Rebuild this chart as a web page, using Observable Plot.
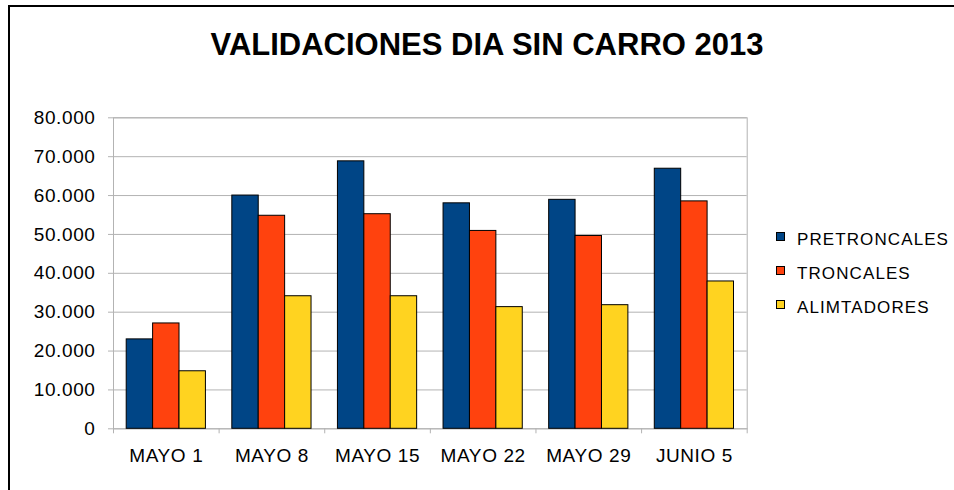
<!DOCTYPE html>
<html>
<head>
<meta charset="utf-8">
<script src="https://cdn.jsdelivr.net/npm/d3@7"></script>
<script src="https://cdn.jsdelivr.net/npm/@observablehq/plot@0.6"></script>
<style>
  html, body { margin: 0; padding: 0; background: #fff; }
  #wrap { position: relative; width: 954px; height: 490px; overflow: hidden; background: #fff; font-family: "Liberation Sans", Arial, sans-serif; }
  #border { position: absolute; left: 8px; top: 5px; width: 1200px; height: 800px; border-top: 2px solid #000; border-left: 2px solid #000; }
  #title { position: absolute; left: 0; top: 28.8px; width: 974px; text-align: center; font-size: 31px; font-weight: bold; line-height: 1; color: #000; white-space: nowrap; }
  #chart { position: absolute; left: 0; top: 90px; }
  #legend { position: absolute; left: 0; top: 0; }
  .sw { position: absolute; width: 7px; height: 7px; border: 1px solid #000; }
  .lt { position: absolute; font-size: 17px; letter-spacing: 1.1px; line-height: 1; color: #000; white-space: nowrap; }
</style>
</head>
<body>
<div id="wrap">
  <div id="border"></div>
  <div id="title">VALIDACIONES DIA SIN CARRO 2013</div>
  <div id="chart"></div>
  <div id="legend"></div>
</div>
<script>
const categories = ["MAYO 1", "MAYO 8", "MAYO 15", "MAYO 22", "MAYO 29", "JUNIO 5"];
const pretroncales = [23000, 60000, 68800, 58000, 58900, 66900];
const troncales = [27100, 54800, 55200, 50900, 49600, 58500];
const alimtadores = [14800, 34100, 34100, 31300, 31800, 37900];
const seriesNames = ["PRETRONCALES", "TRONCALES", "ALIMTADORES"];
const seriesColors = ["#004586", "#ff420e", "#ffd320"];
const yTicks = [0, 10000, 20000, 30000, 40000, 50000, 60000, 70000, 80000];

const seriesValues = [pretroncales, troncales, alimtadores];
const rows = categories.flatMap((cat, i) =>
  seriesValues.map((vals, j) => ({ i, j, cat, series: seriesNames[j], value: vals[i] }))
);

const locale = d3.formatLocale({ decimal: ",", thousands: ".", grouping: [3], currency: ["", ""] });
const fmt = locale.format(",");

const grid = "#b3b3b3";
const groupPad = 0.125;   // fraction of each category band left empty on each side
const barW = 0.25;        // fraction of a category band per bar

const plot = Plot.plot({
  width: 760,
  height: 400,
  marginLeft: 113,
  marginRight: 13.3,
  marginTop: 27.3,
  marginBottom: 61.7,
  style: { fontFamily: "'Liberation Sans', Arial, sans-serif", fontSize: "19px", letterSpacing: "0.6px", color: "#000", background: "transparent" },
  x: { type: "linear", domain: [0, categories.length], axis: null },
  y: { domain: [0, 80000], axis: null },
  color: { domain: seriesNames, range: seriesColors },
  marks: [
    Plot.gridY(yTicks, { stroke: grid, strokeOpacity: 1 }),
    Plot.frame({ stroke: grid }),
    Plot.axisY(yTicks, { tickSize: 5, tickPadding: 13, tickFormat: fmt, stroke: grid, fill: "#000", label: null }),
    Plot.axisX(d3.range(categories.length + 1), { tickSize: 5, tickFormat: () => "", stroke: grid, label: null }),
    Plot.axisX(d3.range(categories.length).map(i => i + 0.5), {
      tickSize: 0, tickPadding: 20, tickFormat: d => categories[Math.floor(d)], fill: "#000", label: null
    }),
    Plot.rectY(rows, {
      x1: d => d.i + groupPad + barW * d.j,
      x2: d => d.i + groupPad + barW * (d.j + 1),
      y: "value",
      fill: "series",
      stroke: "#000",
      strokeWidth: 1
    })
  ]
});
document.getElementById("chart").appendChild(plot);

// legend
const legend = document.getElementById("legend");
const rowTop = [232, 266, 300];
seriesNames.forEach((name, k) => {
  const sw = document.createElement("div");
  sw.className = "sw";
  sw.style.left = "776px";
  sw.style.top = rowTop[k] + "px";
  sw.style.background = seriesColors[k];
  legend.appendChild(sw);
  const t = document.createElement("div");
  t.className = "lt";
  t.style.left = "797px";
  t.style.top = (rowTop[k] - 1) + "px";
  t.textContent = name;
  legend.appendChild(t);
});
</script>
</body>
</html>
